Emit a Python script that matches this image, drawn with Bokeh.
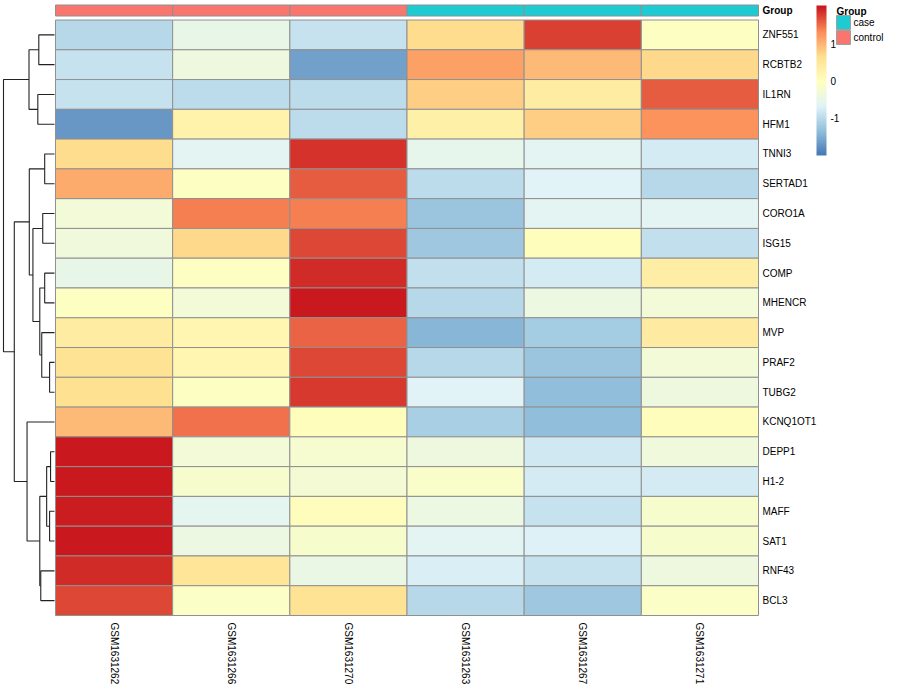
import math
from bokeh.plotting import figure
from bokeh.models import (ColumnDataSource, Range1d, LinearColorMapper, ColorBar, FixedTicker,
                          PrintfTickFormatter)
from bokeh.transform import factor_cmap
from bokeh.core.properties import value
from bokeh.embed import file_html
from bokeh.resources import INLINE

# ---------------- data ----------------
genes = ["ZNF551", "RCBTB2", "IL1RN", "HFM1", "TNNI3", "SERTAD1", "CORO1A", "ISG15",
         "COMP", "MHENCR", "MVP", "PRAF2", "TUBG2", "KCNQ1OT1", "DEPP1", "H1-2",
         "MAFF", "SAT1", "RNF43", "BCL3"]
samples = ["GSM1631262", "GSM1631266", "GSM1631270", "GSM1631263", "GSM1631267", "GSM1631271"]
sample_group = ["control", "control", "control", "case", "case", "case"]
group_levels = ["case", "control"]
group_colors = ["#1ECBD3", "#F8766D"]

# row-scaled expression (z-scores), one list per sample, rows in gene order
GSM1631262 = [-1.00, -0.90, -0.90, -1.68, 0.68, 1.08, -0.30, -0.32, -0.50, -0.06,
              0.40, 0.62, 0.65, 0.95, 2.03, 2.02, 1.98, 2.02, 1.88, 1.75]
GSM1631266 = [-0.50, -0.35, -0.97, 0.27, -0.62, -0.05, 1.42, 0.74, -0.05, -0.28,
              0.20, 0.20, -0.05, 1.50, -0.30, -0.15, -0.58, -0.40, 0.55, -0.07]
GSM1631270 = [-0.90, -1.62, -0.97, -0.98, 1.86, 1.60, 1.40, 1.72, 1.88, 2.02,
              1.56, 1.75, 1.80, 0.03, -0.20, -0.25, 0.06, -0.16, -0.44, 0.62]
GSM1631263 = [0.68, 1.18, 0.80, 0.33, -0.52, -0.95, -1.25, -1.22, -0.92, -1.00,
              -1.43, -1.00, -0.66, -1.15, -0.38, -0.12, -0.42, -0.60, -0.74, -1.00]
GSM1631267 = [1.78, 0.98, 0.40, 0.80, -0.62, -0.63, -0.62, 0.05, -0.75, -0.40,
              -1.16, -1.27, -1.35, -1.32, -0.82, -0.75, -0.88, -0.70, -0.88, -1.20]
GSM1631271 = [-0.06, 0.71, 1.62, 1.28, -0.78, -1.00, -0.62, -0.93, 0.38, -0.28,
              0.43, -0.28, -0.37, 0.03, -0.33, -0.75, -0.16, -0.16, -0.36, -0.10]
sample_values = [GSM1631262, GSM1631266, GSM1631270, GSM1631263, GSM1631267, GSM1631271]

# row dendrogram (merge node, left child, right child, merge height)
dend_node = ["n1", "n2", "n3", "n4", "n5", "n6", "n7", "n8", "n9", "n10",
             "n11", "n12", "n13", "n14", "n15", "n16", "n17", "n18", "n19"]
dend_left = ["ZNF551", "IL1RN", "n1", "TNNI3", "CORO1A", "COMP", "PRAF2", "MVP", "n6", "n5",
             "n4", "DEPP1", "MAFF", "n12", "RNF43", "n14", "KCNQ1OT1", "n11", "n3"]
dend_right = ["RCBTB2", "HFM1", "n2", "SERTAD1", "ISG15", "MHENCR", "TUBG2", "n7", "n8", "n9",
              "n10", "H1-2", "SAT1", "n13", "BCL3", "n15", "n16", "n17", "n18"]
dend_height = [16, 17, 26, 10, 12, 10, 5, 13, 15, 22,
               25.7, 4, 5, 8, 14, 15, 28, 41, 52]

# colour scale
scale_low, scale_high = -2.0, 2.04
stop_vals = [-2.0, -1.333, -0.667, 0.0, 0.667, 1.333, 2.0]
stop_cols = ["#4575B4", "#91BFDB", "#E0F3F8", "#FFFFBF", "#FEE090", "#FC8D59", "#C9191E"]

# ---------------- palette ----------------
def hex2rgb(h):
    h = h.lstrip("#")
    return [int(h[i:i + 2], 16) for i in (0, 2, 4)]

def interp_color(v):
    if v <= stop_vals[0]:
        return stop_cols[0]
    if v >= stop_vals[-1]:
        return stop_cols[-1]
    for k in range(len(stop_vals) - 1):
        a, b = stop_vals[k], stop_vals[k + 1]
        if a <= v <= b:
            t = (v - a) / (b - a)
            c1, c2 = hex2rgb(stop_cols[k]), hex2rgb(stop_cols[k + 1])
            c = [round(c1[i] + (c2[i] - c1[i]) * t) for i in range(3)]
            return "#%02X%02X%02X" % tuple(c)

N = 100
palette = [interp_color(scale_low + (scale_high - scale_low) * (i + 0.5) / N) for i in range(N)]
mapper = LinearColorMapper(palette=palette, low=scale_low, high=scale_high)

# ---------------- layout (figure px -> data units) ----------------
W, H = 884, 684
HM_L, HM_R = 55, 758         # heatmap left/right (px)
HM_T, HM_B = 19.5, 615       # heatmap top/bottom (px)
ncol, nrow = len(samples), len(genes)
cw = (HM_R - HM_L) / ncol
rh = (HM_B - HM_T) / nrow

def px2x(sx):
    return (sx - HM_L) / cw

def px2y(sy):
    return (sy - HM_T) / rh

p = figure(width=W, height=H, output_backend="svg", toolbar_location=None,
           x_range=Range1d(px2x(0), px2x(W)),
           y_range=Range1d(px2y(H), px2y(0)),
           x_axis_type=None, y_axis_type=None, min_border=0,
           outline_line_color=None, background_fill_color="white",
           border_fill_color="white")
p.grid.visible = False

FONT = value("Liberation Sans")

# heatmap cells
xs, ys, zs = [], [], []
for j, vals in enumerate(sample_values):
    for i, v in enumerate(vals):
        xs.append(j + 0.5)
        ys.append(i + 0.5)
        zs.append(v)
src = ColumnDataSource(dict(x=xs, y=ys, z=zs))
p.rect(x="x", y="y", width=1, height=1, source=src,
       fill_color={"field": "z", "transform": mapper},
       line_color="#909090", line_width=1)

# group annotation bar
GB_T, GB_B = 4.5, 15.5
gsrc = ColumnDataSource(dict(x=[j + 0.5 for j in range(ncol)], g=sample_group))
p.rect(x="x", y=(px2y(GB_T) + px2y(GB_B)) / 2, width=1, height=px2y(GB_B) - px2y(GB_T),
       source=gsrc, fill_color=factor_cmap("g", group_colors, group_levels),
       line_color="#909090", line_width=1)
p.text(x=[px2x(762)], y=[(px2y(GB_T) + px2y(GB_B)) / 2], text=["Group"],
       text_font=FONT, text_font_size="10px", text_font_style="bold",
       text_align="left", text_baseline="middle", text_color="black")

# row labels
p.text(x=[px2x(762)] * nrow, y=[i + 0.5 for i in range(nrow)], text=genes,
       text_font=FONT, text_font_size="10px", text_align="left",
       text_baseline="middle", text_color="black")

# column labels (rotated)
p.text(x=[j + 0.5 for j in range(ncol)], y=[px2y(622)] * ncol, text=samples,
       angle=-math.pi / 2, text_font=FONT, text_font_size="10px",
       text_align="left", text_baseline="middle", text_color="black")

# dendrogram
LEAF_X, ROOT_X = 54, 3
kx = (LEAF_X - ROOT_X) / max(dend_height)

def hx(h):
    return px2x(LEAF_X - h * kx)

pos = {g: i + 0.5 for i, g in enumerate(genes)}
hgt = {g: 0.0 for g in genes}
dxs, dys = [], []
for name, l, r, h in zip(dend_node, dend_left, dend_right, dend_height):
    yl, yr = pos[l], pos[r]
    dxs.append([hx(hgt[l]), hx(h), hx(h), hx(hgt[r])])
    dys.append([yl, yl, yr, yr])
    pos[name] = (yl + yr) / 2
    hgt[name] = h
p.multi_line(xs=dxs, ys=dys, line_color="#222222", line_width=1.1)

# colour bar
CB_X, CB_T, CB_H, CB_W = 816, 5, 150, 10
cb = ColorBar(color_mapper=mapper, location=(CB_X, H - CB_T - CB_H),
              width=CB_W, height=CB_H, padding=0, margin=0,
              ticker=FixedTicker(ticks=[-1, 0, 1]),
              formatter=PrintfTickFormatter(format="%d"),
              major_label_text_font="Liberation Sans",
              major_label_text_font_size="10px", major_label_text_color="black",
              major_tick_line_color=None, minor_tick_line_color=None,
              bar_line_color=None, border_line_color=None,
              background_fill_color=None, label_standoff=4)
p.add_layout(cb)

# group legend
LG_X = 836
p.text(x=[px2x(LG_X)], y=[px2y(11)], text=["Group"], text_font=FONT,
       text_font_size="10px", text_font_style="bold", text_align="left",
       text_baseline="middle", text_color="black")
box_w = 14 / cw
box_h = 14 / rh
ly = [px2y(22), px2y(37)]
p.rect(x=[px2x(LG_X + 7)] * 2, y=ly, width=box_w, height=box_h,
       fill_color=group_colors, line_color="#A0A0A0", line_width=1)
p.text(x=[px2x(LG_X + 17)] * 2, y=ly, text=group_levels, text_font=FONT,
       text_font_size="10px", text_align="left", text_baseline="middle",
       text_color="black")

open("out.html", "w").write(file_html(p, INLINE))
